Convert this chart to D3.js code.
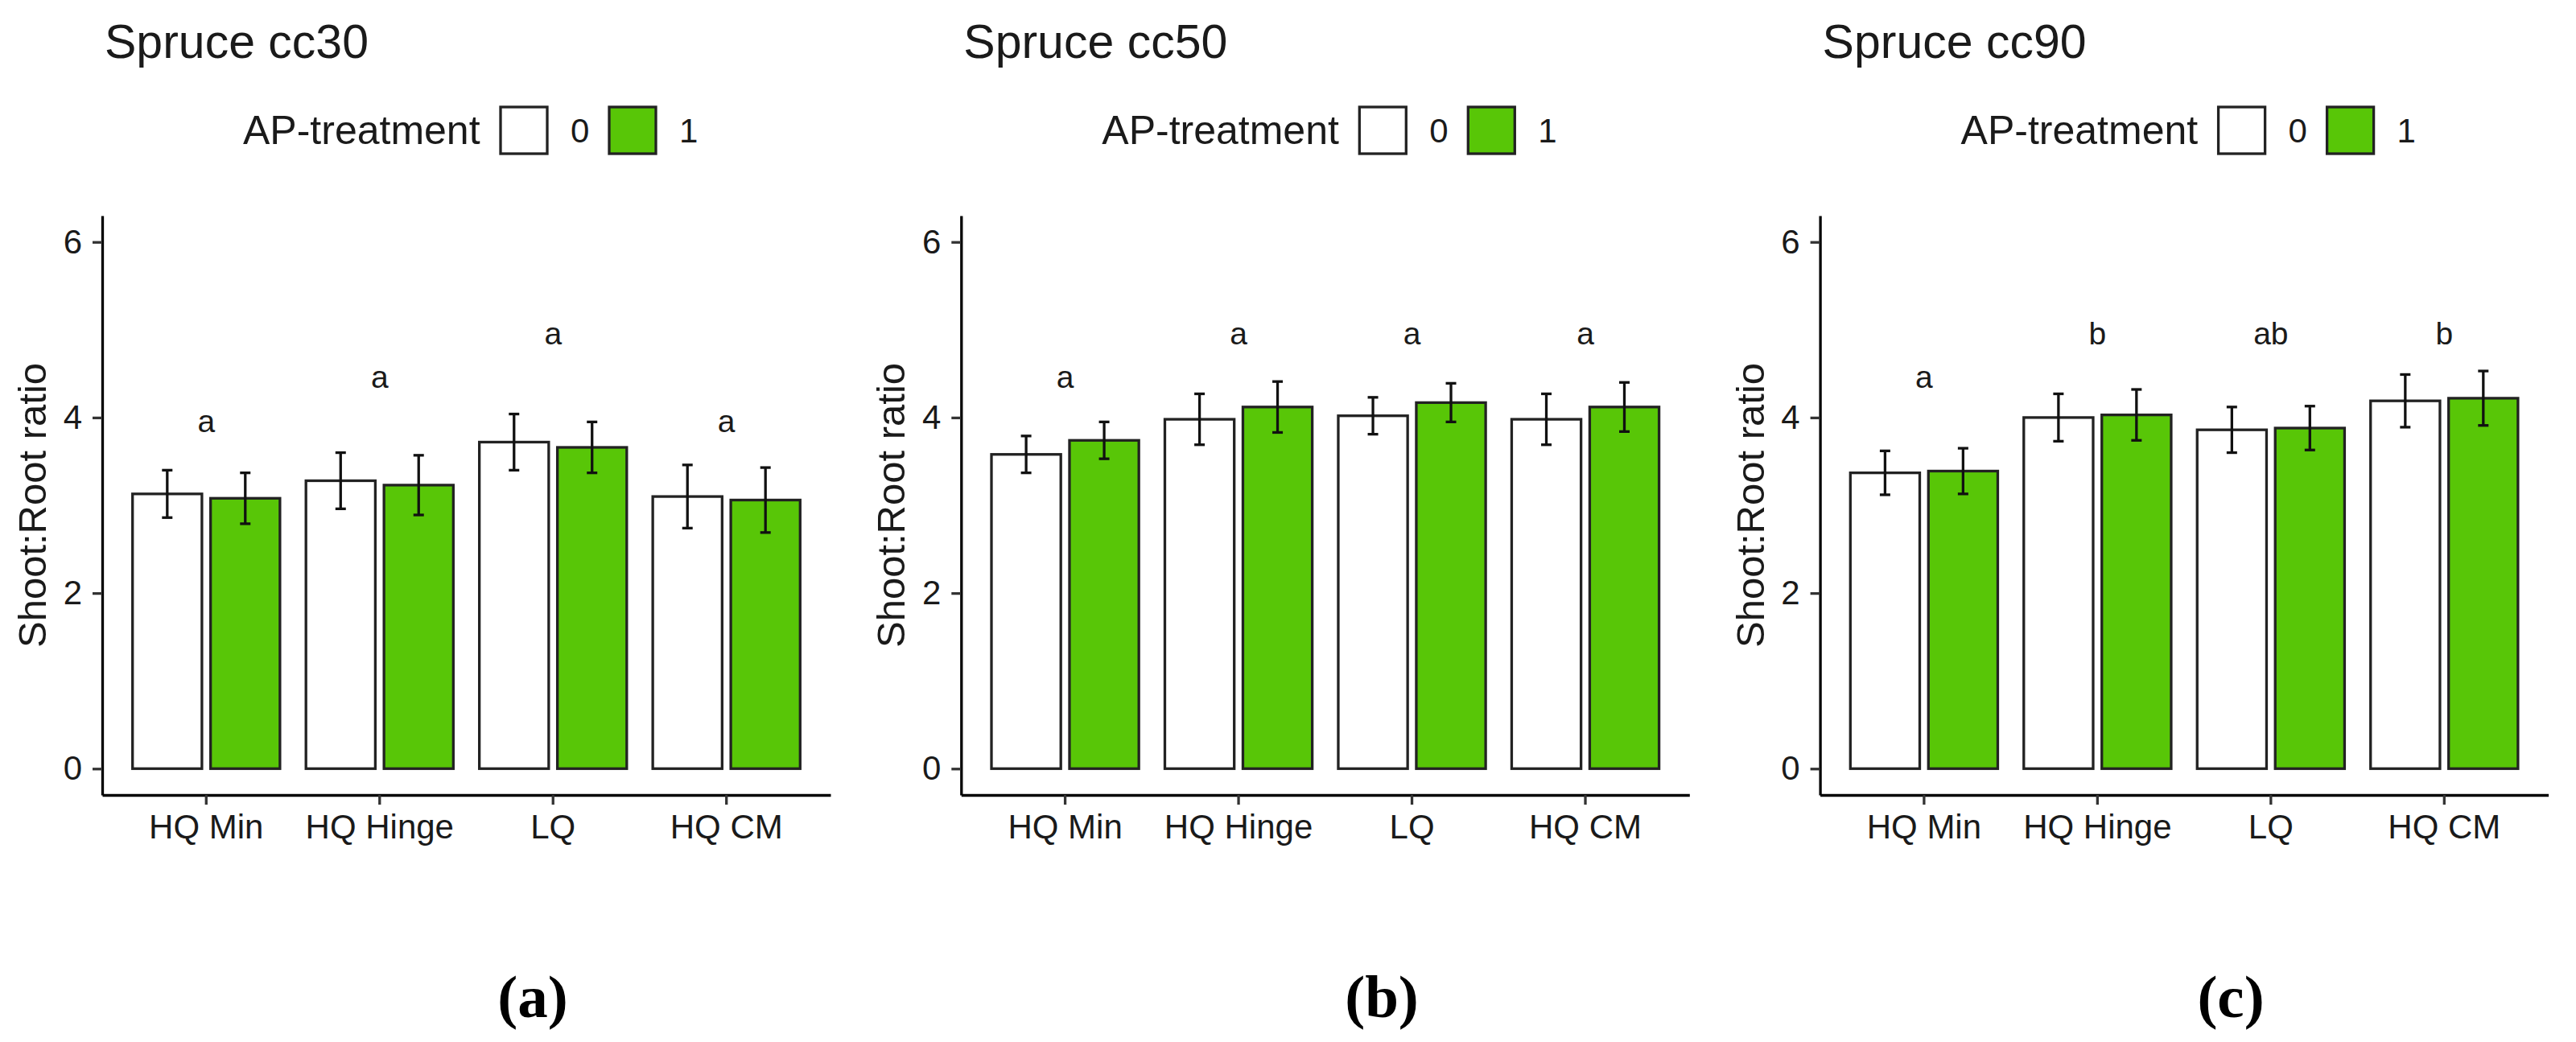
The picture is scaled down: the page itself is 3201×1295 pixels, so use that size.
<!doctype html>
<html>
<head>
<meta charset="utf-8">
<title>Shoot:Root ratio</title>
<script src="https://d3js.org/d3.v7.min.js"></script>
<style>
  body { margin: 0; background: #fff; }
  text { font-family: "Liberation Sans", Arial, sans-serif; fill: #1a1a1a; }
</style>
</head>
<body>
<svg id="chart" width="3201" height="1295"></svg>
<script>
// ---- data ----
const categories = ["HQ Min", "HQ Hinge", "LQ", "HQ CM"];
const treatments = ["0", "1"];
const panelTitles = ["Spruce cc30", "Spruce cc50", "Spruce cc90"];
const panelTags = ["(a)", "(b)", "(c)"];
const yTicks = [0, 2, 4, 6];

// mean shoot:root ratio, AP-treatment 0 and 1
const mean0 = [
  [3.13, 3.28, 3.72, 3.10],
  [3.58, 3.98, 4.02, 3.98],
  [3.37, 4.00, 3.86, 4.19]
];
const mean1 = [
  [3.08, 3.23, 3.66, 3.06],
  [3.74, 4.12, 4.17, 4.12],
  [3.39, 4.03, 3.88, 4.22]
];
// standard errors
const se0 = [
  [0.27, 0.32, 0.32, 0.36],
  [0.21, 0.29, 0.21, 0.29],
  [0.25, 0.27, 0.26, 0.30]
];
const se1 = [
  [0.29, 0.34, 0.29, 0.37],
  [0.21, 0.29, 0.22, 0.28],
  [0.26, 0.29, 0.25, 0.31]
];
// significance letters and their heights
const letters = [
  ["a", "a", "a", "a"],
  ["a", "a", "a", "a"],
  ["a", "b", "ab", "b"]
];
const letterY = [
  [3.96, 4.46, 4.96, 3.96],
  [4.46, 4.96, 4.96, 4.96],
  [4.46, 4.96, 4.96, 4.96]
];

const fills = {"0": "#ffffff", "1": "#58c607"};

// ---- layout ----
const panelStep = 1067.3;
const plotLeft = 127, plotRight = 1032, plotTop = 268, plotBottom = 988;
const tagX = [662, 1717, 2772];

const svg = d3.select("#chart");
svg.append("rect").attr("width", 3201).attr("height", 1295).attr("fill", "#fff");

const x = d3.scaleBand()
  .domain(categories)
  .range([plotLeft, plotRight])
  .paddingInner(0)
  .paddingOuter(0.1);

const y = d3.scaleLinear()
  .domain([-0.3, 6.3])
  .range([plotBottom, plotTop]);

const step = x.step();
const barW = 0.4 * step;
const dodge = 0.225 * step;
const capHalf = 6.5;

panelTitles.forEach(function(title, p) {
  const g = svg.append("g").attr("transform", "translate(" + (p * panelStep) + ",0)");

  // title
  g.append("text")
    .attr("x", 130)
    .attr("y", 72)
    .attr("font-size", "59px")
    .text(title);

  // legend
  g.append("text")
    .attr("x", 302)
    .attr("y", 162)
    .attr("dominant-baseline", "central")
    .attr("font-size", "50px")
    .text("AP-treatment");

  const legendX = [622, 757];
  treatments.forEach(function(t, i) {
    g.append("rect")
      .attr("x", legendX[i])
      .attr("y", 133)
      .attr("width", 58)
      .attr("height", 58)
      .attr("fill", fills[t])
      .attr("stroke", "#222")
      .attr("stroke-width", 3.3);
    g.append("text")
      .attr("x", legendX[i] + 87)
      .attr("y", 162)
      .attr("dominant-baseline", "central")
      .attr("font-size", "42px")
      .text(t);
  });

  // bars
  const rows = [];
  categories.forEach(function(c, i) {
    rows.push({cat: c, t: "0", m: mean0[p][i], se: se0[p][i], off: -dodge});
    rows.push({cat: c, t: "1", m: mean1[p][i], se: se1[p][i], off: dodge});
  });

  g.append("g").selectAll("rect")
    .data(rows)
    .enter()
    .append("rect")
      .attr("x", d => x(d.cat) + step / 2 + d.off - barW / 2)
      .attr("y", d => y(d.m))
      .attr("width", barW)
      .attr("height", d => y(0) - y(d.m))
      .attr("fill", d => fills[d.t])
      .attr("stroke", "#222")
      .attr("stroke-width", 3.3);

  // error bars
  const eb = g.append("g").attr("stroke", "#111").attr("stroke-width", 3.3);
  rows.forEach(function(d) {
    const cx = x(d.cat) + step / 2 + d.off;
    eb.append("line")
      .attr("x1", cx).attr("x2", cx)
      .attr("y1", y(d.m - d.se)).attr("y2", y(d.m + d.se));
    eb.append("line")
      .attr("x1", cx - capHalf).attr("x2", cx + capHalf)
      .attr("y1", y(d.m + d.se)).attr("y2", y(d.m + d.se));
    eb.append("line")
      .attr("x1", cx - capHalf).attr("x2", cx + capHalf)
      .attr("y1", y(d.m - d.se)).attr("y2", y(d.m - d.se));
  });

  // letters
  g.append("g").selectAll("text")
    .data(categories)
    .enter()
    .append("text")
      .attr("x", d => x(d) + step / 2)
      .attr("y", (d, i) => y(letterY[p][i]))
      .attr("text-anchor", "middle")
      .attr("dominant-baseline", "central")
      .attr("font-size", "39px")
      .text((d, i) => letters[p][i]);

  // axes
  const yAxis = g.append("g")
    .attr("transform", "translate(" + plotLeft + ",0)")
    .call(d3.axisLeft(y).tickValues(yTicks).tickFormat(d3.format("d"))
      .tickSize(12).tickSizeOuter(0).tickPadding(13));
  const xAxis = g.append("g")
    .attr("transform", "translate(0," + plotBottom + ")")
    .call(d3.axisBottom(x).tickSize(12).tickSizeOuter(0).tickPadding(12));

  [yAxis, xAxis].forEach(function(a) {
    a.select(".domain").attr("stroke", "#000").attr("stroke-width", 3.3);
    a.selectAll(".tick line").attr("stroke", "#333").attr("stroke-width", 3.3);
    a.selectAll(".tick text")
      .attr("font-size", "42px")
      .attr("font-family", "Liberation Sans, Arial, sans-serif")
      .attr("fill", "#1a1a1a");
  });

  // y axis title
  g.append("text")
    .attr("transform", "translate(40," + ((plotTop + plotBottom) / 2) + ") rotate(-90)")
    .attr("text-anchor", "middle")
    .attr("dominant-baseline", "central")
    .attr("font-size", "49px")
    .text("Shoot:Root ratio");
});

// sub-figure tags
svg.selectAll(".tag")
  .data(panelTags)
  .enter()
  .append("text")
    .attr("class", "tag")
    .attr("x", (d, i) => tagX[i])
    .attr("y", 1264)
    .attr("text-anchor", "middle")
    .attr("font-size", "75px")
    .attr("font-weight", "bold")
    .style("font-family", "'Liberation Serif', 'Times New Roman', serif")
    .style("fill", "#000")
    .text(d => d);
</script>
</body>
</html>
